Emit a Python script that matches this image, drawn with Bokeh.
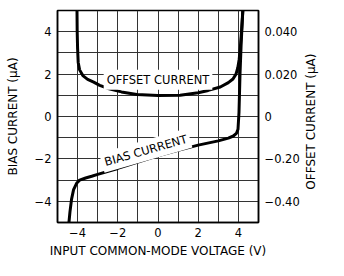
import math
from bokeh.plotting import figure
from bokeh.models import LinearAxis, FixedTicker, Range1d, Label
from bokeh.embed import file_html
from bokeh.resources import INLINE

# ---- data ----
bias_v = [-4.43, -4.38, -4.3, -4.2, -4.05, -3.9, -3.6, -3.3, -3.0, -2.0, -1.0, 0.0,
          1.0, 2.0, 3.0, 3.5, 3.75, 3.9, 3.98, 4.03, 4.08, 4.14, 4.22]
bias_i = [-5.0, -4.5, -3.9, -3.45, -3.15, -3.0, -2.9, -2.82, -2.73, -2.45, -2.15, -1.85,
          -1.6, -1.35, -1.15, -1.02, -0.92, -0.8, -0.6, 0.2, 2.0, 3.5, 5.0]

offset_v = [-4.03, -4.02, -4.0, -3.97, -3.9, -3.74, -3.5, -3.2, -2.9, -2.43, -1.82, -1.05,
            0.0, 1.1, 2.0, 2.5, 3.1, 3.5, 3.73, 3.88, 3.97, 4.04, 4.1, 4.16, 4.22]
offset_i = [5.0, 4.0, 3.2, 2.55, 2.2, 1.93, 1.75, 1.62, 1.47, 1.31, 1.16, 1.04,
            0.99, 1.0, 1.12, 1.23, 1.39, 1.6, 1.77, 2.0, 2.3, 2.7, 3.3, 4.1, 5.0]

x_ticks = [-4, -2, 0, 2, 4]
x_tick_labels = ["\u22124", "\u22122", "0", "2", "4"]
y_ticks = [-4, -2, 0, 2, 4]
y_tick_labels = ["\u22124", "\u22122", "0", "2", "4"]
right_tick_labels = ["\u22120.40", "\u22120.20", "0", "0.020", "0.040"]
grid_ticks = [-4, -3, -2, -1, 0, 1, 2, 3, 4]

FONT = "DejaVu Sans"

p = figure(width=328, height=260, x_range=Range1d(-5, 5), y_range=Range1d(-5, 5),
           output_backend="svg", toolbar_location=None,
           min_border_left=57, min_border_right=61, min_border_top=10, min_border_bottom=34)
p.background_fill_color = "white"
p.border_fill_color = "white"
p.outline_line_color = "black"
p.outline_line_width = 1.5

# grid
p.xgrid.ticker = FixedTicker(ticks=grid_ticks)
p.ygrid.ticker = FixedTicker(ticks=grid_ticks)
for g in (p.xgrid, p.ygrid):
    g.grid_line_color = "#333333"
    g.grid_line_width = 1
    g.grid_line_alpha = 1.0

def style_axis(ax, ticks, labels, label_size="11.5px"):
    ax.ticker = FixedTicker(ticks=ticks)
    ax.major_label_overrides = {t: l for t, l in zip(ticks, labels)}
    ax.major_tick_line_color = None
    ax.minor_tick_line_color = None
    ax.major_tick_out = 0
    ax.major_tick_in = 0
    ax.minor_tick_out = 0
    ax.minor_tick_in = 0
    ax.axis_line_color = "black"
    ax.axis_line_width = 1.5
    ax.major_label_text_font = FONT
    ax.major_label_text_font_size = label_size
    ax.major_label_text_color = "black"
    ax.axis_label_text_font = FONT
    ax.axis_label_text_font_size = "12px"
    ax.axis_label_text_font_style = "normal"
    ax.axis_label_text_color = "black"

xa = p.xaxis[0]
style_axis(xa, x_ticks, x_tick_labels)
xa.axis_label = "INPUT COMMON-MODE VOLTAGE (V)"
xa.major_label_standoff = 5
xa.axis_label_standoff = 4

ya = p.yaxis[0]
style_axis(ya, y_ticks, y_tick_labels)
ya.axis_label = "BIAS CURRENT (\u03bcA)"
ya.major_label_standoff = 6
ya.axis_label_standoff = 12

ra = LinearAxis()
style_axis(ra, y_ticks, right_tick_labels)
ra.major_label_standoff = 6
p.add_layout(ra, "right")

# right-hand axis title, drawn as a single rotated label (reads bottom to top)
title_start = [-3.45]
ra2 = LinearAxis()
style_axis(ra2, title_start, ["OFFSET CURRENT (\u03bcA)"], label_size="12px")
ra2.axis_line_color = None
ra2.major_label_orientation = math.pi / 2
ra2.major_label_standoff = 9
p.add_layout(ra2, "right")

# curves
p.line(offset_v, offset_i, line_color="black", line_width=3)
p.line(bias_v, bias_i, line_color="black", line_width=3)

# in-plot labels
def add_label(x, y, text, angle=0.0):
    lab = Label(x=x, y=y, text=text, angle=angle,
                text_font=FONT, text_font_size="11.5px", text_color="black",
                text_align="center", text_baseline="middle",
                background_fill_color="white", background_fill_alpha=1.0)
    if "padding" in lab.properties():
        lab.padding = 3
    p.add_layout(lab)

add_label(0.0, 1.73, "OFFSET CURRENT")
add_label(-0.61, -1.60, "BIAS CURRENT", angle=0.28)

open("out.html", "w").write(file_html(p, INLINE))
